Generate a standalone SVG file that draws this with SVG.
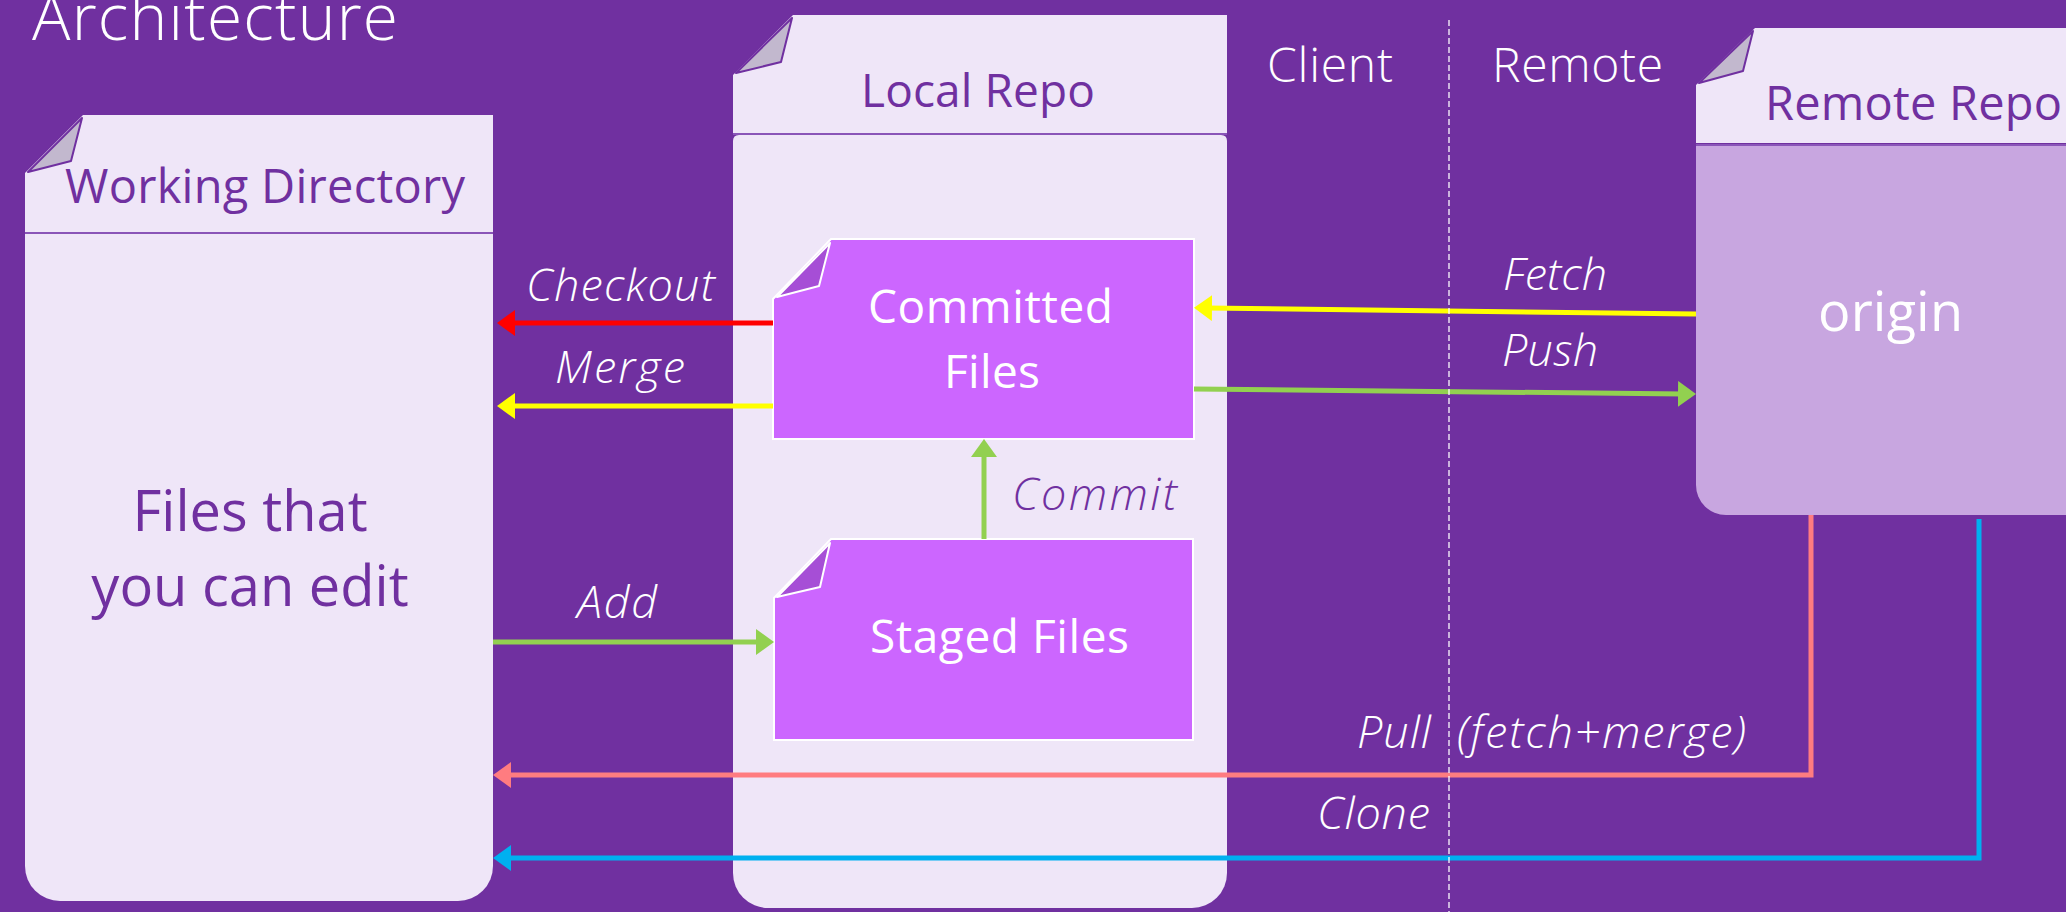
<svg xmlns="http://www.w3.org/2000/svg" width="2066" height="912" viewBox="0 0 2066 912">
<defs>
<style>
.hdr{font-family:"Open Sans","Noto Sans",sans-serif;font-size:46px;fill:#7030A0}
.hdr47{font-size:47px}
.big{font-size:56px}
.panel{fill:#EFE6F8}
.sep{stroke:#8A55B8;stroke-width:2}
.foldL{fill:#C2B8CE;stroke:#7030A0;stroke-width:2;stroke-linejoin:round}
.box{fill:#CC66FF;stroke:#FFFFFF;stroke-width:2}
.foldB{fill:#A64ED6;stroke:#FFFFFF;stroke-width:2;stroke-linejoin:round}
.btxt{font-family:"Open Sans","Noto Sans",sans-serif;font-size:46px;fill:#FFFFFF}
.origin{font-size:54px}
.lbl{font-family:"Open Sans","Noto Sans",sans-serif;font-size:45px;font-style:italic;font-weight:300;fill:#FFFFFF}
.lblD{fill:#7030A0}
.light{font-family:"Open Sans","Noto Sans",sans-serif;font-weight:300;fill:#FFFFFF}
.conn{fill:none;stroke-width:5}
</style>
<marker id="aR" markerUnits="userSpaceOnUse" markerWidth="18" markerHeight="26" refX="6" refY="13" orient="auto"><path d="M0,0 L18,13 L0,26 Z" fill="#FF0000"/></marker>
<marker id="aY" markerUnits="userSpaceOnUse" markerWidth="18" markerHeight="26" refX="6" refY="13" orient="auto"><path d="M0,0 L18,13 L0,26 Z" fill="#FFFF00"/></marker>
<marker id="aG" markerUnits="userSpaceOnUse" markerWidth="18" markerHeight="26" refX="6" refY="13" orient="auto"><path d="M0,0 L18,13 L0,26 Z" fill="#92D050"/></marker>
<marker id="aP" markerUnits="userSpaceOnUse" markerWidth="18" markerHeight="26" refX="6" refY="13" orient="auto"><path d="M0,0 L18,13 L0,26 Z" fill="#FF7C80"/></marker>
<marker id="aB" markerUnits="userSpaceOnUse" markerWidth="18" markerHeight="26" refX="6" refY="13" orient="auto"><path d="M0,0 L18,13 L0,26 Z" fill="#00B0F0"/></marker>
</defs>
<rect x="0" y="0" width="2066" height="912" fill="#7030A0"/>
<text class="light" x="32" y="40" font-size="64" textLength="366">Architecture</text>

<g id="working-directory">
<path class="panel" d="M83,115 H493 V232 H25 V173 Z"/>
<polygon class="foldL" points="28,172 71,161 82,118"/>
<path class="panel" d="M25,234 H493 V866 A35,35 0 0 1 458,901 H60 A35,35 0 0 1 25,866 Z"/>
<line class="sep" x1="25" y1="233" x2="493" y2="233"/>
<text class="hdr hdr47" x="65" y="203" textLength="400">Working Directory</text>
<text class="hdr big" x="250" y="531" text-anchor="middle">Files that</text>
<text class="hdr big" x="250" y="606" text-anchor="middle">you can edit</text>
</g>

<g id="local-repo">
<path class="panel" d="M793,15 H1227 V133 H733 V75 Z"/>
<polygon class="foldL" points="736,73 781,62 792,18"/>
<path class="panel" d="M733,141 Q733,135 739,135 H1221 Q1227,135 1227,141 V873 A35,35 0 0 1 1192,908 H768 A35,35 0 0 1 733,873 Z"/>
<line class="sep" x1="733" y1="134" x2="1227" y2="134"/>
<text class="hdr" x="861" y="107" textLength="234">Local Repo</text>
</g>

<g id="committed-files">
<path class="box" d="M831,239 H1194 V439 H773 V299 Z"/>
<polygon class="foldB" points="777,297 819,286 830,243"/>
<text class="btxt" x="868" y="323" textLength="245">Committed</text>
<text class="btxt" x="944" y="388" textLength="96">Files</text>
</g>

<g id="staged-files">
<path class="box" d="M831,539 H1193 V740 H774 V598 Z"/>
<polygon class="foldB" points="777,597 820,587 830,543"/>
<text class="btxt" x="870" y="653" textLength="259">Staged Files</text>
</g>

<g id="remote-repo">
<path class="panel" d="M1755,28 H2066 V143 H1696 V85 Z"/>
<polygon class="foldL" points="1699,83 1743,71 1753,31"/>
<path d="M1696,146 H2070 V515 H1726 A30,30 0 0 1 1696,485 Z" fill="#C8A6E0"/>
<line class="sep" x1="1696" y1="145" x2="2066" y2="145"/>
<text class="hdr hdr47" x="1765" y="120" textLength="297">Remote Repo</text>
<text class="btxt origin" x="1818" y="331" textLength="145">origin</text>
</g>

<g id="connectors">
<path class="conn" stroke="#FF0000" d="M773,323 H509" marker-end="url(#aR)"/>
<path class="conn" stroke="#FFFF00" d="M773,406 H509" marker-end="url(#aY)"/>
<path class="conn" stroke="#92D050" d="M493,642 H762" marker-end="url(#aG)"/>
<path class="conn" stroke="#92D050" d="M984,539 V451" marker-end="url(#aG)"/>
<path class="conn" stroke="#FFFF00" d="M1696,314 L1206,308" marker-end="url(#aY)"/>
<path class="conn" stroke="#92D050" d="M1194,389 L1684,394" marker-end="url(#aG)"/>
<path class="conn" stroke="#FF7C80" d="M1811,515 V775 H505" marker-end="url(#aP)"/>
<path class="conn" stroke="#00B0F0" d="M1979,519 V858 H505" marker-end="url(#aB)"/>
<text class="lbl" x="526" y="301" textLength="189">Checkout</text>
<text class="lbl" x="555" y="383" textLength="130">Merge</text>
<text class="lbl" x="577" y="618" textLength="80">Add</text>
<text class="lbl lblD" x="1012" y="510" textLength="165">Commit</text>
<text class="lbl" x="1503" y="290" textLength="104">Fetch</text>
<text class="lbl" x="1502" y="366" textLength="96">Push</text>
<text class="lbl" x="1357" y="748" textLength="74">Pull</text>
<text class="lbl" x="1457" y="748" textLength="289">(fetch+merge)</text>
<text class="lbl" x="1317" y="829" textLength="113">Clone</text>
</g>

<g id="divider">
<line x1="1449" y1="20" x2="1449" y2="912" stroke="#FFFFFF" stroke-width="1.5" stroke-dasharray="6 3" opacity="0.85"/>
<text class="light" x="1267" y="82" font-size="48" textLength="126">Client</text>
<text class="light" x="1492" y="82" font-size="48" textLength="171">Remote</text>
</g>
</svg>
